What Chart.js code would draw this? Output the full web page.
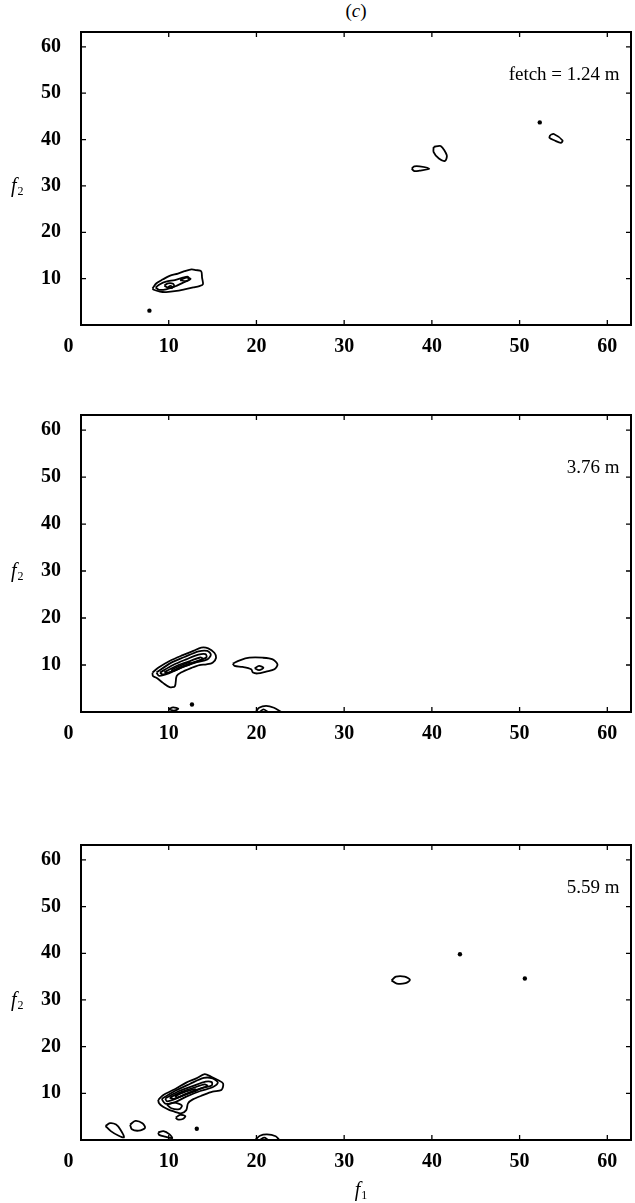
<!DOCTYPE html>
<html>
<head>
<meta charset="utf-8">
<script src="https://cdn.jsdelivr.net/npm/chart.js@4.4.1/dist/chart.umd.min.js"></script>
<style>
  body { margin: 0; background: #fff; width: 635px; height: 1203px; position: relative; overflow: hidden; }
  .panel { position: absolute; left: 0; width: 635px; }
  #title { position: absolute; top: 0; left: 0; width: 712px; text-align: center; font: 19px "Liberation Serif", serif; line-height: 22px; color: #000; }
</style>
</head>
<body>
<div id="title">(<i>c</i>)</div>
<div class="panel" style="top:0;height:355px"><canvas id="p1" width="635" height="355"></canvas></div>
<div class="panel" style="top:380px;height:362px"><canvas id="p2" width="635" height="362"></canvas></div>
<div class="panel" style="top:810px;height:393px"><canvas id="p3" width="635" height="393"></canvas></div>
<script>
// axis ticks
const xTicks = [0, 10, 20, 30, 40, 50, 60];
const yTicks = [10, 20, 30, 40, 50, 60];
const notes = ['fetch = 1.24 m', '3.76 m', '5.59 m'];
const noteY = [54, 52, 54];

// panel 1 contours (f1, f2)
const c1Outer = [[8.15,7.9],[8.6,9.0],[9.35,9.85],[10.1,10.6],[11.05,11.1],[11.8,11.6],[12.6,12.0],[13.1,11.85],[13.7,11.6],[13.8,10.2],[13.9,8.8],[13.5,8.4],[12.8,8.1],[11.8,7.7],[10.9,7.35],[9.7,7.1],[9.0,7.2],[8.3,7.6]];
const c1Mid = [[8.5,8.1],[9.0,8.8],[9.7,9.35],[10.7,9.7],[11.6,10.2],[12.2,10.4],[12.3,9.7],[11.6,9.1],[10.7,8.3],[9.7,7.7],[8.9,7.6]];
const c1Inner = [[9.5,8.5],[9.9,9.0],[10.5,8.9],[10.6,8.3],[10.0,8.0]];
const c1Core = [[9.9,8.15],[10.2,8.45],[10.45,8.15],[10.1,7.95]];
const c1Lobe = [[11.3,9.7],[12.0,10.2],[12.5,9.95],[11.9,9.45]];
const c1Leaf = [[37.7,33.7],[38.0,34.2],[38.6,34.2],[39.7,33.7],[38.6,33.3],[38.0,33.2]];
const c1Oval = [[40.2,38.4],[41.0,38.6],[41.7,36.6],[41.5,35.4],[40.8,35.9],[40.2,37.3]];
const c1LeafB = [[53.5,41.0],[53.9,41.2],[54.9,39.8],[54.7,39.3],[54.0,39.8],[53.4,40.4]];
const c1Dots = [[7.8,3.1],[52.3,43.7]];

// panel 2 contours
const c2Outer = [[8.15,8.4],[8.8,9.4],[10.1,10.85],[11.6,12.1],[12.8,13.0],[13.7,13.7],[14.5,13.55],[15.2,12.6],[15.4,11.55],[15.0,10.5],[14.3,10.15],[13.5,10.0],[12.6,9.4],[11.4,8.4],[10.9,7.65],[10.7,5.5],[10.1,5.3],[9.35,6.2],[8.6,7.3],[8.2,7.65]];
const c2Ring2 = [[8.6,8.4],[10.2,10.4],[11.8,11.7],[13.4,12.9],[14.4,13.0],[14.8,12.2],[14.4,11.2],[13.2,10.6],[11.6,9.6],[10.0,8.2],[8.9,7.7]];
const c2Ring3 = [[9.0,8.4],[10.5,10.0],[12.0,11.2],[13.4,12.2],[14.2,12.3],[14.3,11.6],[13.5,11.0],[12.0,10.0],[10.3,8.6],[9.3,8.0]];
const c2Ring4 = [[9.5,8.5],[11.0,9.9],[12.5,10.9],[13.6,11.6],[13.9,11.3],[13.2,10.7],[11.6,9.7],[10.0,8.4]];
const c2Ring5 = [[10.3,9.0],[11.5,10.0],[12.3,10.5],[12.5,10.2],[11.5,9.5],[10.5,8.7]];
const c2Side = [[17.3,10.3],[18.1,11.0],[19.2,11.55],[20.7,11.55],[21.85,11.2],[22.4,10.15],[22.05,9.1],[21.1,8.6],[20.15,8.2],[19.6,8.4],[19.4,9.1],[18.4,9.6],[17.5,9.8]];
const c2SideCore = [[19.8,9.3],[20.3,9.8],[20.8,9.4],[20.3,8.9]];
const c2Low = [[10.0,0.6],[10.5,1.0],[11.1,0.7],[10.6,0.3]];
const c2Arc = [[19.95,0.05],[20.3,0.9],[21.1,1.3],[22.0,0.9],[22.8,0.05]];
const c2ArcIn = [[20.4,0.05],[20.8,0.55],[21.3,0.05]];
const c2Dots = [[12.65,1.6]];

// panel 3 contours
const c3Outer = [[8.8,8.6],[9.35,9.6],[10.5,10.7],[12.0,12.3],[13.15,13.2],[14.1,14.1],[14.85,13.55],[15.6,12.85],[16.2,12.1],[16.0,10.7],[15.0,10.35],[13.9,9.6],[12.75,8.7],[12.2,7.85],[12.0,6.4],[11.4,5.7],[10.7,6.05],[10.1,6.4],[9.35,7.1],[8.9,7.85]];
const c3Ring2 = [[9.2,8.8],[10.8,10.6],[12.4,12.0],[14.0,13.3],[15.0,13.2],[15.6,12.3],[15.0,11.3],[13.6,10.5],[12.0,9.3],[10.6,8.0],[9.6,7.8]];
const c3Ring3 = [[9.6,8.9],[11.2,10.5],[12.8,11.6],[14.2,12.5],[14.9,12.4],[14.9,11.7],[13.8,11.1],[12.2,10.0],[10.6,8.7],[9.8,8.3]];
const c3Ring4 = [[10.1,9.1],[11.6,10.4],[13.0,11.3],[14.1,11.9],[14.4,11.6],[13.6,11.0],[12.0,9.9],[10.6,8.8]];
const c3Ring5 = [[10.7,9.4],[12.0,10.4],[13.0,10.9],[13.2,10.6],[12.1,9.9],[11.0,9.1]];
const c3Lobe = [[9.8,7.6],[10.6,8.0],[11.5,7.4],[11.2,6.6],[10.3,6.8]];
const c3Under = [[10.8,4.8],[11.3,5.4],[11.9,5.1],[11.6,4.5],[11.0,4.4]];
const c3LeftA = [[2.8,3.0],[3.3,3.6],[4.0,3.3],[4.5,2.2],[4.9,0.6],[4.3,0.9],[3.4,1.9]];
const c3LeftB = [[5.6,3.3],[6.2,4.1],[7.0,3.6],[7.3,2.6],[6.6,2.0],[5.8,2.3]];
const c3LeftC = [[8.8,1.6],[9.4,1.9],[10.1,1.2],[10.4,0.4],[9.6,0.7],[8.9,1.1]];
const c3Arc = [[19.9,0.05],[20.4,0.9],[21.2,1.2],[22.2,0.8],[22.6,0.05]];
const c3ArcIn = [[20.4,0.05],[20.9,0.5],[21.3,0.05]];
const c3Oval = [[35.4,34.2],[35.9,35.0],[36.9,35.0],[37.5,34.3],[37.0,33.6],[36.0,33.5]];
const c3Dots = [[13.2,2.4],[43.2,39.8],[50.6,34.6]];

Chart.defaults.font.family = '"Liberation Serif", "Times New Roman", serif';
Chart.defaults.font.size = 20;
Chart.defaults.font.weight = 'bold';
Chart.defaults.color = '#000';

function toPts(arr, closed) {
  const pts = arr.map(p => ({ x: p[0], y: p[1] }));
  if (closed) pts.push({ x: arr[0][0], y: arr[0][1] });
  return pts;
}
function loop(arr) {
  return { data: toPts(arr, true), showLine: true, borderColor: '#000', borderWidth: 1.8, pointRadius: 0, tension: 0.3 };
}
function arc(arr) {
  return { data: toPts(arr, false), showLine: true, borderColor: '#000', borderWidth: 1.8, pointRadius: 0, tension: 0.3 };
}
function dots(arr) {
  return { data: toPts(arr, false), showLine: false, pointRadius: 2.2, backgroundColor: '#000', borderWidth: 0 };
}

function subLabel(ctx, main, sub, x, y) {
  ctx.textAlign = 'left';
  ctx.textBaseline = 'alphabetic';
  ctx.font = 'italic 20px "Liberation Serif", serif';
  ctx.fillText(main, x, y);
  const w = ctx.measureText(main).width;
  ctx.font = '12px "Liberation Serif", serif';
  ctx.fillText(sub, x + w + 1, y + 3);
}

const framePlugin = {
  id: 'frame',
  afterDraw(chart, args, opts) {
    const { ctx, chartArea: a, scales: { x, y } } = chart;
    ctx.save();
    ctx.strokeStyle = '#000';
    ctx.lineWidth = 2;
    ctx.strokeRect(a.left, a.top, a.right - a.left, a.bottom - a.top);
    ctx.lineWidth = 1.3;
    ctx.beginPath();
    xTicks.forEach(v => {
      if (v === 0) return;
      const px = x.getPixelForValue(v);
      ctx.moveTo(px, a.bottom); ctx.lineTo(px, a.bottom - 5);
      ctx.moveTo(px, a.top); ctx.lineTo(px, a.top + 5);
    });
    yTicks.forEach(v => {
      const py = y.getPixelForValue(v);
      ctx.moveTo(a.left, py); ctx.lineTo(a.left + 5, py);
      ctx.moveTo(a.right, py); ctx.lineTo(a.right - 5, py);
    });
    ctx.stroke();
    ctx.fillStyle = '#000';
    ctx.font = '19px "Liberation Serif", serif';
    ctx.textAlign = 'right';
    ctx.textBaseline = 'middle';
    ctx.fillText(opts.note, x.getPixelForValue(61.4), y.getPixelForValue(opts.noteY));
    subLabel(ctx, 'f', '2', 11, y.getPixelForValue(30) + 6);
    if (opts.f1) subLabel(ctx, 'f', '1', x.getPixelForValue(31.2), a.bottom + 56);
    ctx.restore();
  }
};

function makeChart(id, datasets, idx, padTop, xHeight) {
  return new Chart(document.getElementById(id), {
    type: 'scatter',
    data: { datasets: datasets },
    options: {
      responsive: false,
      animation: false,
      layout: { padding: { top: padTop, right: 2, left: 0, bottom: 0 } },
      plugins: {
        legend: { display: false },
        tooltip: { enabled: false },
        frame: { note: notes[idx], noteY: noteY[idx], f1: idx === 2 }
      },
      scales: {
        x: {
          type: 'linear', min: 0, max: 62.7,
          grid: { display: false },
          border: { display: false },
          afterBuildTicks: s => { s.ticks = xTicks.map(v => ({ value: v })); },
          afterFit: s => { s.height = xHeight; },
          ticks: { padding: 2, maxRotation: 0, callback: v => v === 0 ? '0     ' : String(v) }
        },
        y: {
          type: 'linear', min: 0, max: 63.2,
          grid: { display: false },
          border: { display: false },
          afterBuildTicks: s => { s.ticks = yTicks.map(v => ({ value: v })); },
          afterFit: s => { s.width = 81; },
          ticks: { padding: 12 }
        }
      }
    },
    plugins: [framePlugin]
  });
}

makeChart('p1', [
  loop(c1Outer), loop(c1Mid), loop(c1Inner), loop(c1Core), loop(c1Lobe),
  loop(c1Leaf), loop(c1Oval), loop(c1LeafB), dots(c1Dots)
], 0, 32, 30);

makeChart('p2', [
  loop(c2Outer), loop(c2Ring2), loop(c2Ring3), loop(c2Ring4), loop(c2Ring5),
  loop(c2Side), loop(c2SideCore), loop(c2Low), arc(c2Arc), arc(c2ArcIn), dots(c2Dots)
], 1, 35, 30);

makeChart('p3', [
  loop(c3Outer), loop(c3Ring2), loop(c3Ring3), loop(c3Ring4), loop(c3Ring5),
  loop(c3Lobe), loop(c3Under), loop(c3LeftA), loop(c3LeftB), loop(c3LeftC),
  arc(c3Arc), arc(c3ArcIn), loop(c3Oval), dots(c3Dots)
], 2, 35, 63);
</script>
</body>
</html>
